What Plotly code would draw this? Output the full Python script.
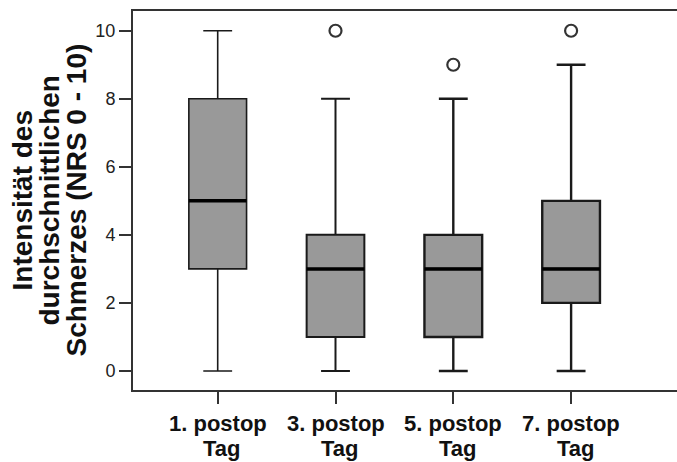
import plotly.graph_objects as go

# ---- data ----
categories = ["1. postop Tag", "3. postop Tag", "5. postop Tag", "7. postop Tag"]
label_line1 = ["1. postop", "3. postop", "5. postop", "7. postop"]
label_line2 = ["Tag", "Tag", "Tag", "Tag"]
lower_whisker = [0, 0, 0, 0]
q1_values = [3, 1, 1, 2]
median_values = [5, 3, 3, 3]
q3_values = [8, 4, 4, 5]
upper_whisker = [10, 8, 8, 9]
outlier_x = [1, 2, 3]
outlier_y = [10, 9, 10]
y_ticks = [0, 2, 4, 6, 8, 10]
y_title_lines = ["Intensität des", "durchschnittlichen", "Schmerzes (NRS 0 - 10)"]

BOX_W = 0.49
line_widths = [1.6, 2.0, 2.4, 2.4]

fig = go.Figure()
for i in range(len(categories)):
    fig.add_trace(go.Box(
        x=[i], q1=[q1_values[i]], median=[median_values[i]], q3=[q3_values[i]],
        lowerfence=[lower_whisker[i]], upperfence=[upper_whisker[i]],
        width=BOX_W, whiskerwidth=0.5,
        fillcolor="#999999",
        line=dict(color="#1a1a1a", width=line_widths[i]),
        boxpoints=False, showlegend=False, hoverinfo="skip",
    ))

# thick median lines
mx, my = [], []
for i, m in enumerate(median_values):
    mx += [i - BOX_W / 2, i + BOX_W / 2, None]
    my += [m, m, None]
fig.add_trace(go.Scatter(x=mx, y=my, mode="lines",
                         line=dict(color="#000000", width=3.5),
                         showlegend=False, hoverinfo="skip"))

# outliers
fig.add_trace(go.Scatter(x=outlier_x, y=outlier_y, mode="markers",
                         marker=dict(symbol="circle-open", size=12,
                                     line=dict(color="#333333", width=2.2),
                                     color="#333333"),
                         showlegend=False, hoverinfo="skip"))

L, T, B = 133, 11, 72
W, H = 677, 462
plot_w = W - L
cat_px = 117.8

fig.update_layout(
    width=W, height=H,
    margin=dict(l=L, r=0, t=T, b=B),
    plot_bgcolor="white", paper_bgcolor="white",
    font=dict(family="Liberation Sans, Arial, sans-serif", color="#111111"),
    xaxis=dict(
        range=[-0.719, -0.719 + plot_w / cat_px],
        tickvals=list(range(len(categories))), ticktext=["" for _ in categories],
        ticks="outside", ticklen=12, tickwidth=2, tickcolor="#333333",
        showline=True, linecolor="#333333", linewidth=2, mirror=True,
        showgrid=False, zeroline=False,
    ),
    yaxis=dict(
        range=[-0.56, 10.58],
        tickvals=y_ticks, ticktext=[str(v) for v in y_ticks],
        ticks="outside", ticklen=12, tickwidth=2, tickcolor="#333333",
        tickfont=dict(size=18, color="#222222"),
        showline=True, linecolor="#333333", linewidth=2, mirror=False,
        showgrid=False, zeroline=False,
    ),
)

# x category labels (two tight lines)
for i in range(len(categories)):
    fig.add_annotation(x=i, xref="x", y=0, yref="paper", yshift=-33.4,
                       text=label_line1[i], showarrow=False, xanchor="center", yanchor="middle",
                       font=dict(size=22, color="#111111",
                                 family="Liberation Sans, Arial, sans-serif", weight="bold"))
    fig.add_annotation(x=i, xref="x", y=0, yref="paper", yshift=-58.6, xshift=4,
                       text=label_line2[i], showarrow=False, xanchor="center", yanchor="middle",
                       font=dict(size=22, color="#111111",
                                 family="Liberation Sans, Arial, sans-serif", weight="bold"))

# y title (three tight rotated lines)
centers_px = [22, 49, 76]
for txt, cx in zip(y_title_lines, centers_px):
    fig.add_annotation(x=0, xref="paper", xshift=cx - L, y=0.5, yref="paper",
                       text=txt, textangle=-90, showarrow=False,
                       xanchor="center", yanchor="middle",
                       font=dict(size=28, color="#111111",
                                 family="Liberation Sans, Arial, sans-serif", weight="bold"))

fig.write_html("out.html")
